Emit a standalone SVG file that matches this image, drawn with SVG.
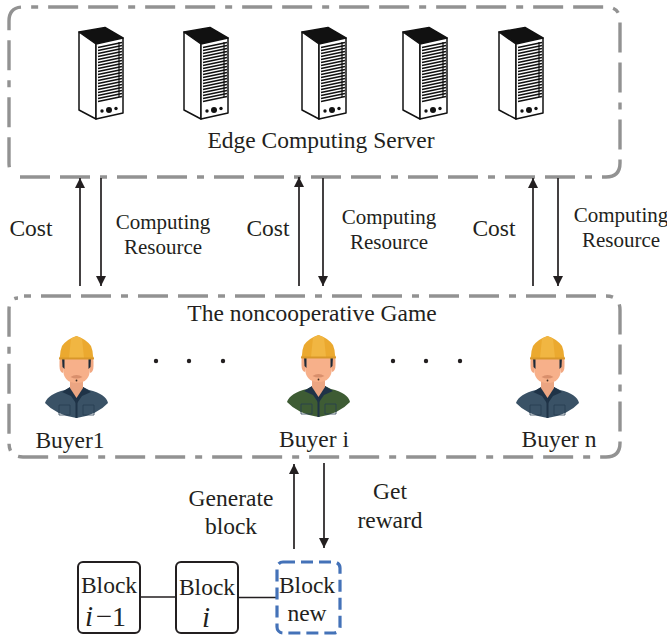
<svg xmlns="http://www.w3.org/2000/svg" width="667" height="639" viewBox="0 0 667 639">
<style>
text{font-family:"Liberation Serif","Times New Roman",serif;fill:#231f20;font-size:23.500px;text-anchor:middle}
.s{font-size:21px}
.it{font-style:italic;font-size:29px}
.frame{fill:none;stroke:#929292;stroke-width:3.400}
.c{fill:none;stroke:#231f20;stroke-width:1.700}
.b{fill:#fff;stroke:#231f20;stroke-width:2}
.vent{stroke:#111;stroke-width:1.600}
</style>
<defs>
<marker id="a" markerUnits="userSpaceOnUse" markerWidth="11" markerHeight="11" refX="10" refY="5" orient="auto"><path d="M0 0L10 5L0 10Z" fill="#231f20"/></marker>
<symbol id="server" overflow="visible" width="50" height="100" viewBox="0 0 50 100">
<path d="M1 5L27 0.500L45 11L18 17Z" fill="#111" stroke="#111" stroke-width="1.500" stroke-linejoin="round"/>
<path d="M1 5L18 17V92L1 83Z" fill="#fff" stroke="#111" stroke-width="1.500" stroke-linejoin="round"/>
<path d="M18 17L45 11V86L18 92Z" fill="#fff" stroke="#111" stroke-width="1.500" stroke-linejoin="round"/>
<path class="vent" d="M20 20.500L44 15.500M20 23.500L44 18.500M20 26.500L44 21.500M20 29.500L44 24.500M20 32.500L44 27.500M20 35.500L44 30.500M20 38.500L44 33.500M20 41.500L44 36.500M20 44.500L44 39.500M20 47.500L44 42.500M20 50.500L44 45.500M20 53.500L44 48.500M20 56.500L44 51.500M20 59.500L44 54.500M20 62.500L44 57.500M20 65.500L44 60.500M20 68.500L44 63.500M20 71.500L44 66.500M20 74.500L44 69.500"/>
<path d="M41 15V70" stroke="#111" stroke-width="1.200"/>
<circle cx="31" cy="83" r="3" fill="#111"/><circle cx="24" cy="84" r="1.700" fill="#111"/><circle cx="38" cy="81.500" r="1.700" fill="#111"/>
</symbol>
<symbol id="head" overflow="visible" width="64" height="82" viewBox="0 0 64 82">
<path d="M0 67Q3 58 20 54L26 51H38L44 54Q61 58 63 67Q52 79 31.500 82Q11 79 0 67Z" fill="inherit"/>
<path d="M17 56L25 51H38L46 56L37 60L31.500 68L26 60Z" fill="#1f3347"/>
<path d="M30.500 62H32.500V82H30.500Z" fill="#1f3347"/>
<path d="M14 69H25V79H14ZM38 69H49V79H38Z" fill="none" stroke="#263d50" stroke-width="0.800"/>
<path d="M25 38H38V52L31.500 62L25 52Z" fill="#eba582"/>
<path d="M18 22H45V32Q45 47 31.500 47Q18 47 18 32Z" fill="#f7b08a"/>
<path d="M14.500 25Q14.500 22 18 22V37Q14.500 36 14.500 30ZM48.500 25Q48.500 22 45 22V37Q48.500 36 48.500 30Z" fill="#f2a882"/>
<path d="M17 21H19.500V33L17.500 31ZM46 21H43.500V33L45.500 31Z" fill="#1d2a38"/>
<path d="M25.500 41Q31.500 37 37.500 41Q31.500 44 25.500 41Z" fill="#d98f6c"/>
<circle cx="31.500" cy="44.500" r="0.900" fill="#3a2a20"/>
<path d="M17 10Q22 3 31.500 0Q41 3 46 10Q48 15 48 20L49 23H14L15 20Q15 15 17 10Z" fill="#eba92f"/>
<path d="M26 2.500L31.500 0L37 2.500L39 22H24Z" fill="#f1b642"/>
<path d="M14 21.500H49V23.500H14Z" fill="#d9972a"/>
</symbol>
</defs>
<g id="edge-server">
<path class="frame" stroke-dasharray="30 10 30 10 7 10" d="M20 177H606Q620 177 620 163V21Q620 7 606 7H23Q9 7 9 21V163Q9 172 13 172"/>
<use href="#server" x="78" y="27"/>
<use href="#server" x="183" y="27"/>
<use href="#server" x="301" y="27"/>
<use href="#server" x="402" y="27"/>
<use href="#server" x="498" y="27"/>
<text x="321" y="148">Edge Computing Server</text>
</g>
<g id="game">
<path class="frame" stroke-dasharray="7 10 30 10 30 10" d="M24 296H606Q620 296 620 310V443Q620 457 606 457H23Q9 457 9 443V310Q9 298 18 298"/>
<text x="312" y="321">The noncooperative Game</text>
<circle cx="156" cy="361" r="2.200" fill="#231f20"/><circle cx="189" cy="361" r="2.200" fill="#231f20"/><circle cx="223" cy="361" r="2.200" fill="#231f20"/>
<circle cx="393" cy="361" r="2.200" fill="#231f20"/><circle cx="426" cy="361" r="2.200" fill="#231f20"/><circle cx="460" cy="361" r="2.200" fill="#231f20"/>
</g>
<g id="buyer-1"><use href="#head" x="45" y="336" fill="#3a5266"/><text x="70" y="448">Buyer1</text></g>
<g id="buyer-i"><use href="#head" x="287" y="335" fill="#3e5c34"/><text x="314" y="447">Buyer i</text></g>
<g id="buyer-n"><use href="#head" x="516" y="336" fill="#3a5266"/><text x="559" y="447">Buyer n</text></g>
<g id="connectors">
<path class="c" marker-end="url(#a)" d="M80 286V178"/>
<path class="c" marker-end="url(#a)" d="M101 178V286"/>
<path class="c" marker-end="url(#a)" d="M299 286V177"/>
<path class="c" marker-end="url(#a)" d="M323 178V286"/>
<path class="c" marker-end="url(#a)" d="M533 286V178"/>
<path class="c" marker-end="url(#a)" d="M558 178V286"/>
<path class="c" marker-end="url(#a)" d="M294 549V464"/>
<path class="c" marker-end="url(#a)" d="M324 463V548"/>
<path class="c" d="M140 597H176M238 597.500H277"/>
</g>
<g id="labels">
<text x="31" y="236">Cost</text>
<text class="s" x="163" y="229">Computing</text><text class="s" x="163" y="254">Resource</text>
<text x="268" y="236">Cost</text>
<text class="s" x="389" y="224">Computing</text><text class="s" x="389" y="249">Resource</text>
<text x="494" y="236">Cost</text>
<text class="s" x="621" y="222">Computing</text><text class="s" x="621" y="247">Resource</text>
<text x="231" y="506">Generate</text><text x="231" y="534">block</text>
<text x="390" y="499">Get</text><text x="390" y="528">reward</text>
</g>
<g id="block-i-1"><rect class="b" x="78" y="562" width="62" height="71" rx="5"/><text x="109" y="593">Block</text><text class="it" x="89" y="626">i</text><text x="104" y="626" style="font-size:29px">−</text><text x="119" y="626" style="font-size:28px">1</text></g>
<g id="block-i"><rect class="b" x="176" y="562" width="62" height="71" rx="5"/><text x="207" y="595">Block</text><text class="it" x="206" y="627">i</text></g>
<g id="block-new"><rect x="277" y="562" width="63" height="71" rx="6" fill="none" stroke="#4472b8" stroke-width="3.200" stroke-dasharray="12 6"/><text x="307" y="593">Block</text><text x="307" y="621">new</text></g>
</svg>
